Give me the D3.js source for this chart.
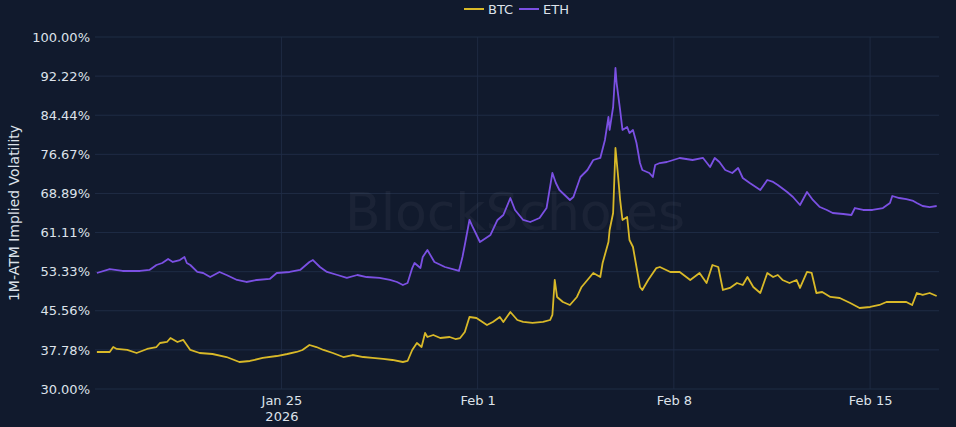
<!DOCTYPE html>
<html>
<head>
<meta charset="utf-8">
<script src="https://cdn.jsdelivr.net/npm/d3@7"></script>
<style>
	html, body { margin: 0; padding: 0; background: #111a2d; }
	svg { display: block; font-family: 'DejaVu Sans', sans-serif; }
</style>
</head>
<body>
<svg id="main-plot"></svg>
<script>
	// hours since 2026-01-18 00:00 UTC
	var ethHours = [10, 21, 32, 47, 55, 61, 66, 71, 75, 81, 85, 87, 90, 96, 101, 107, 115, 121, 130, 138, 147, 158, 164, 175, 184, 192, 195, 201, 207, 216, 224, 233, 241, 252, 261, 267, 272, 276, 280, 282, 287, 289, 293, 299, 308, 317, 320, 323, 325, 329, 331, 338, 347, 353, 358, 364, 368, 375, 381, 389, 395, 400, 403, 406, 415, 418, 424, 430, 435, 441, 445, 448, 449, 452, 454, 455, 458, 460, 464, 466, 469, 472, 475, 477, 483, 486, 488, 492, 498, 509, 520, 529, 535, 539, 543, 548, 554, 559, 563, 569, 578, 584, 589, 593, 601, 606, 612, 618, 623, 629, 635, 640, 649, 656, 659, 666, 674, 683, 689, 691, 697, 703, 709, 712, 717, 723, 729];
	var ethValues = [53.07, 53.86, 53.47, 53.47, 53.67, 54.66, 55.06, 55.85, 55.26, 55.65, 56.25, 55.06, 54.66, 53.27, 53.07, 52.27, 53.27, 52.67, 51.68, 51.28, 51.68, 51.88, 53.07, 53.27, 53.67, 55.26, 55.65, 54.26, 53.27, 52.67, 52.08, 52.67, 52.27, 52.08, 51.68, 51.28, 50.68, 51.08, 54.06, 55.06, 54.06, 56.25, 57.64, 55.26, 54.26, 53.67, 53.47, 56.25, 58.64, 63.61, 62.61, 59.23, 60.63, 63.61, 64.60, 67.98, 65.60, 63.61, 63.21, 64.01, 65.99, 72.96, 70.97, 69.57, 67.59, 68.18, 72.16, 73.55, 75.54, 75.94, 79.52, 84.09, 81.51, 86.08, 93.84, 90.85, 85.48, 81.51, 82.10, 80.91, 81.51, 78.92, 74.94, 73.55, 72.96, 72.16, 74.55, 74.94, 75.14, 75.94, 75.54, 75.94, 74.15, 75.94, 75.14, 73.55, 72.96, 73.95, 71.96, 70.97, 69.57, 71.56, 71.17, 70.57, 69.18, 68.18, 66.59, 69.18, 67.59, 66.19, 65.60, 65.00, 64.80, 64.60, 65.99, 65.60, 65.60, 65.99, 66.99, 68.38, 67.98, 67.78, 67.39, 66.99, 66.39, 66.19, 66.39];

	var btcHours = [10, 21, 24, 27, 36, 44, 53, 61, 64, 70, 73, 79, 84, 87, 90, 98, 109, 121, 132, 141, 152, 164, 173, 181, 186, 192, 198, 204, 212, 221, 229, 238, 246, 255, 263, 272, 276, 280, 284, 288, 291, 293, 298, 304, 312, 317, 321, 325, 329, 335, 344, 349, 355, 358, 364, 370, 375, 383, 392, 398, 400, 402, 404, 409, 415, 421, 425, 430, 435, 441, 443, 448, 449, 452, 454, 456, 458, 460, 464, 466, 469, 472, 475, 477, 482, 489, 492, 501, 509, 518, 526, 532, 537, 542, 546, 552, 558, 563, 567, 572, 578, 584, 589, 593, 597, 603, 609, 612, 618, 622, 626, 631, 638, 646, 655, 663, 672, 680, 686, 695, 703, 708, 712, 717, 723, 729];
	var btcValues = [37.36, 37.36, 38.35, 37.96, 37.76, 37.16, 37.96, 38.35, 39.15, 39.35, 40.14, 39.35, 39.75, 38.75, 37.76, 37.16, 36.96, 36.36, 35.37, 35.57, 36.17, 36.56, 36.96, 37.36, 37.76, 38.75, 38.35, 37.76, 37.16, 36.36, 36.76, 36.36, 36.17, 35.97, 35.77, 35.37, 35.57, 37.76, 39.15, 38.35, 41.14, 40.34, 40.74, 40.14, 40.34, 39.94, 40.14, 41.34, 44.32, 44.12, 42.73, 43.33, 44.32, 43.33, 45.31, 43.72, 43.33, 43.13, 43.33, 43.72, 44.72, 51.68, 48.30, 47.30, 46.71, 48.30, 50.29, 51.68, 53.07, 52.27, 55.06, 59.23, 61.62, 65.00, 77.93, 72.96, 67.59, 63.61, 64.20, 59.63, 58.24, 54.26, 50.29, 49.69, 51.68, 54.06, 54.26, 53.27, 53.27, 51.68, 53.07, 51.08, 54.66, 54.26, 49.69, 50.09, 51.08, 50.68, 52.27, 50.29, 49.09, 53.07, 52.27, 52.67, 51.68, 51.08, 51.68, 50.09, 53.27, 53.07, 49.09, 49.29, 48.30, 48.10, 47.10, 46.11, 46.31, 46.71, 47.30, 47.30, 47.30, 46.71, 49.09, 48.70, 49.09, 48.50];

	var yTicks = [30, 37.78, 45.56, 53.33, 61.11, 68.89, 76.67, 84.44, 92.22, 100];
	var xTicks = ['2026-01-25', '2026-02-01', '2026-02-08', '2026-02-15'];
	var seriesNames = ['BTC', 'ETH'];
	var seriesColors = ['#d9b928', '#7b50e3'];

	var width = 956,
		height = 427,
		margin = {top: 37, right: 17, bottom: 38, left: 95},
		base = Date.UTC(2026, 0, 18),
		hour = 3600 * 1000,
		svg = d3.select('svg#main-plot').attr('width', width).attr('height', height);

	var x = d3.scaleUtc()
		.domain([new Date(base + 8.4 * hour), new Date(base + 731 * hour)])
		.range([margin.left, width - margin.right]);
	var y = d3.scaleLinear()
		.domain([30, 100])
		.range([height - margin.bottom, margin.top]);

	function toPoints(hours, values) {
		return hours.map(function(h, i) {
			return {date: new Date(base + h * hour), value: values[i]};
		});
	}
	var series = [toPoints(btcHours, btcValues), toPoints(ethHours, ethValues)];

	// grid
	svg.append('g').selectAll('line').data(xTicks).enter().append('line')
		.attr('x1', function(d) { return x(new Date(d + 'T00:00:00Z')); })
		.attr('x2', function(d) { return x(new Date(d + 'T00:00:00Z')); })
		.attr('y1', margin.top)
		.attr('y2', height - margin.bottom)
		.attr('stroke', '#1e2a42')
		.attr('stroke-width', 1);
	svg.append('g').selectAll('line').data(yTicks).enter().append('line')
		.attr('x1', margin.left)
		.attr('x2', width - margin.right)
		.attr('y1', function(d) { return y(d); })
		.attr('y2', function(d) { return y(d); })
		.attr('stroke', '#1f2c45')
		.attr('stroke-width', 1);

	// watermark
	svg.append('text')
		.attr('x', 515)
		.attr('y', 230)
		.attr('text-anchor', 'middle')
		.attr('font-size', 52)
		.attr('textLength', 340)
		.attr('fill', 'rgba(255,255,255,0.045)')
		.text('BlockScholes');

	// y axis
	var yAxis = d3.axisLeft(y).tickValues(yTicks).tickSize(0).tickPadding(4)
		.tickFormat(function(d) { return d.toFixed(2) + '%'; });
	svg.append('g')
		.attr('transform', 'translate(' + (margin.left - 1) + ',0)')
		.call(yAxis)
		.call(function(g) {
			g.select('.domain').remove();
			g.selectAll('text').attr('fill', '#dde2ea').attr('font-size', 13).attr('font-family', "'DejaVu Sans', sans-serif");
		});

	// x axis
	var xAxis = d3.axisBottom(x)
		.tickValues(xTicks.map(function(d) { return new Date(d + 'T00:00:00Z'); }))
		.tickSize(0).tickPadding(7)
		.tickFormat(d3.utcFormat('%b %-d'));
	var xg = svg.append('g')
		.attr('transform', 'translate(0,' + (height - margin.bottom) + ')')
		.call(xAxis);
	xg.select('.domain').remove();
	xg.selectAll('text').attr('fill', '#dde2ea').attr('font-size', 13).attr('font-family', "'DejaVu Sans', sans-serif");
	xg.selectAll('.tick').filter(function(d, i) { return i === 0; }).select('text')
		.append('tspan').attr('x', 0).attr('dy', '1.25em').text('2026');

	// y title
	svg.append('text')
		.attr('transform', 'translate(19,' + (margin.top + (height - margin.bottom - margin.top) / 2) + ') rotate(-90)')
		.attr('text-anchor', 'middle')
		.attr('fill', '#dde2ea')
		.attr('font-size', 14)
		.text('1M-ATM Implied Volatility');

	// lines
	var line = d3.line()
		.x(function(d) { return x(d.date); })
		.y(function(d) { return y(d.value); });
	svg.append('g').selectAll('path').data(series).enter().append('path')
		.attr('d', line)
		.attr('fill', 'none')
		.attr('stroke', function(d, i) { return seriesColors[i]; })
		.attr('stroke-width', 1.8)
		.attr('stroke-linejoin', 'round');

	// legend
	var legend = svg.append('g').attr('transform', 'translate(464,9)');
	var item = legend.selectAll('g').data(seriesNames).enter().append('g')
		.attr('transform', function(d, i) { return 'translate(' + (i * 55) + ',0)'; });
	item.append('line')
		.attr('x1', 0).attr('x2', 20).attr('y1', 0).attr('y2', 0)
		.attr('stroke', function(d, i) { return seriesColors[i]; })
		.attr('stroke-width', 2);
	item.append('text')
		.attr('x', 24).attr('y', 4.5)
		.attr('fill', '#dde2ea')
		.attr('font-size', 13)
		.text(function(d) { return d; });
</script>
</body>
</html>
